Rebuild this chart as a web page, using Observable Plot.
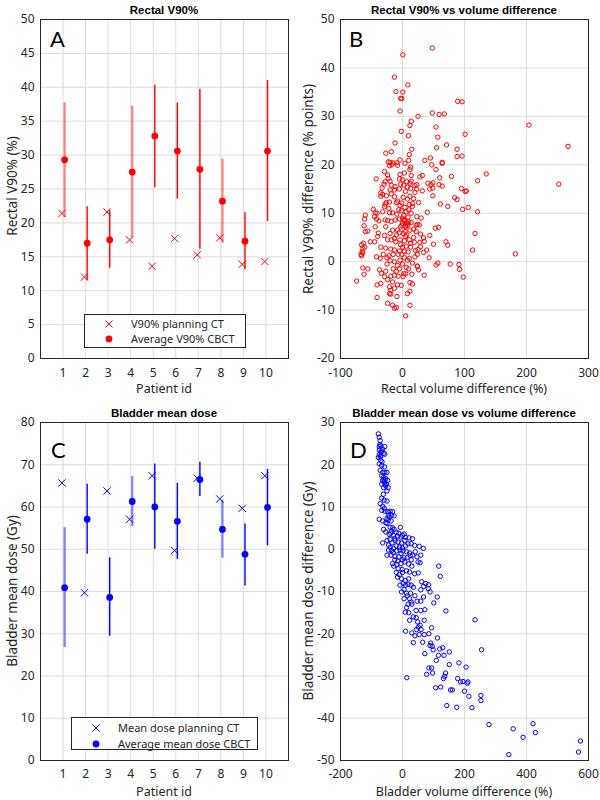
<!DOCTYPE html>
<html><head><meta charset="utf-8">
<script src="https://cdn.jsdelivr.net/npm/d3@7"></script>
<script src="https://cdn.jsdelivr.net/npm/@observablehq/plot@0.6"></script>
<style>
body{margin:0;background:#fff;}
#wrap{position:relative;width:600px;height:800px;overflow:hidden;background:#fff;}
.panel{position:absolute;width:300px;height:400px;}
.title{position:absolute;font:bold 11.5px "Liberation Sans",Arial,sans-serif;line-height:12px;color:#000;text-align:center;width:248px;white-space:nowrap;}
.letter{position:absolute;font:22px Lato,sans-serif;line-height:22px;color:#000;}
.xlab{position:absolute;font:12.5px "Noto Sans",sans-serif;line-height:14px;color:#262626;white-space:nowrap;transform:translate(-50%,-50%);}
.ylab{position:absolute;font:13.5px "Noto Sans",sans-serif;line-height:15px;color:#262626;white-space:nowrap;transform:translate(-50%,-50%) rotate(-90deg);}
.legend{position:absolute;border:1px solid #262626;background:#fff;font:11px "Noto Sans",sans-serif;color:#262626;box-sizing:border-box;}
.legend .row{position:absolute;left:0;height:14px;line-height:14px;white-space:nowrap;}
</style></head><body><div id="wrap"></div>
<script>
// ---------- Data ----------
const patients = [1,2,3,4,5,6,7,8,9,10];
const faintBars = [1,4,8];

const rectalPlanCT   = [21.4,12.0,21.6,17.5,13.6,17.7,15.3,17.8,13.9,14.3];
const rectalCBCTMean = [29.3,17.0,17.5,27.5,32.8,30.6,27.9,23.2,17.3,30.6];
const rectalCBCTMin  = [20.8,11.5,13.3,17.8,25.2,23.5,16.1,17.0,13.1,20.2];
const rectalCBCTMax  = [37.7,22.4,21.8,37.2,40.3,37.7,39.7,29.4,21.5,41.0];

const bladderPlanCT   = [65.7,39.7,63.8,57.1,67.4,49.7,66.8,61.9,59.7,67.4];
const bladderCBCTMean = [40.9,57.1,38.6,61.3,60.0,56.6,66.5,54.7,48.8,59.9];
const bladderCBCTMin  = [26.7,48.8,29.4,55.4,50.0,47.6,62.5,47.9,41.3,50.8];
const bladderCBCTMax  = [55.1,65.4,48.0,67.2,70.2,65.6,70.6,61.6,56.0,68.9];

const ticksA = [0,5,10,15,20,25,30,35,40,45,50];
const ticksBx = [-100,0,100,200,300];
const ticksBy = [-20,-10,0,10,20,30,40,50];
const ticksC = [0,10,20,30,40,50,60,70,80];
const ticksDx = [-200,0,200,400,600];
const ticksDy = [-50,-40,-30,-20,-10,0,10,20,30];

// Rectal: [volume difference %, V90% difference points]
const rectalPoints = [
[48,44.1],[0.5,42.7],[-13,38.1],[8.5,36.5],[-10.6,35.1],[0.5,35.0],[-3,33.7],[-1,33.7],[89,33.1],[96,33.0],[-4,31.1],[48,30.7],[59,30.4],[67.5,30.5],[25,30.0],[14,29.0],[12,28.1],[54,27.8],[-2,26.9],[101,26.3],[9.6,26.0],[57,25.7],[-12,24.5],[71,24.1],[15,23.2],[55,23.5],[88,23.2],[-27,22.4],[-18,22.7],[11,22.1],[45,21.4],[36,20.9],[88,21.7],[96,21.8],[-4,21.0],[10,20.9],[-23,20.6],[-20,20.5],[-17,20.0],[-21,19.8],[-15,20.4],[-9,20.4],[-8,19.9],[4,20.3],[13,19.5],[12,19.0],[47,20.0],[64,20.3],[64,20.5],[54,19.0],[-29,18.6],[-24,17.9],[-4,18.0],[3,18.3],[14,17.8],[32,17.8],[28,17.5],[79,17.6],[60,17.3],[135,18.1],[-42.5,17.1],[204,28.2],[267,23.8],
[-28,16.5],[-30,16.0],[-33,15.2],[-35,14.2],[-32,13.9],[-20,16.6],[-18,15.8],[-13,14.8],[-20,14.8],[-5,17.1],[0,16.9],[-3,16.0],[7,16.5],[2,15.8],[12,16.2],[14,16.6],[8,15.4],[13,15.1],[20,15.7],[23,15.9],[23,15.0],[20,14.3],[32,14.6],[41,16.2],[46,15.9],[49,16.3],[49,15.2],[44,15.0],[59,15.9],[64,15.6],[49,13.6],[95,15.1],[103,14.6],[101,14.5],[84,13.2],[88,12.8],[61,11.9],[73,11.4],[97,10.8],[106,11.2],[121,10.3],[121,16.7],[40,10.2],[117,5.8],[113,2.4],[91,-0.6],[92,-1.6],[98,-3.2],[77,-0.5],[57,-0.3],[54,-0.7],[70,4.1],[73,3.4],[50,3.6],[44,5.4],[53,6.9],[58,7.1],[34,4.9],[35,4.2],[29,3.1],[39,2.4],[35,-2.8],[24,-1],[26,-1.7],[182,1.6],[252,16],
[-66,1.2],[-65,2],[-64,2.7],[-66,3.5],[-63,3.8],[-61,3.0],[-67,1.5],[-64,1.8],[-60,9.6],[-61,8.8],[-62,7.4],[-60,6.2],[-56,6.3],[-64,-1.3],[-56,-1.5],[-62,-2.6],[-74,-4.0],[-41,-7.4],[-24,-8.6],[-16,-9.0],[-13,-9.6],[-10,-9.5],[12,-9.0],[5,-11.2],
[-47,10.8],[-44,10.1],[-41,10],[-45,9.3],[-32,10.3],[-28,11.9],[-26,12.2],[-29,11.4],[-21,12.3],[-13,13.4],[-10,12.2],[-4,11.6],[-6,10.7],[-16,10.1],[-21,10.1],[1,13.3],[8,12.9],[11,11.8],[16,11.4],[10,10.7],[14,10],[23,9.3],[-28,8.6],[-24,8.5],[-18,8.3],[-12,8.6],[-5,8.8],[3,8.6],[0,7.9],[5,7.4],[-3,7.2],[8,7.9],[14,8.1],[24,7.7],[27,7.6],[18,6.7],[22,6.2],[29,5.7],[-42,8.8],[-38,8.4],[-44,7.2],[-39,5.9],[-40,5.2],[-45,4.1],[-52,4.1],[-27,7.2],[-29,5.4],[-24,4.5],[-18,4.5],[-13,4.8],[-11,4.1],[-4,4.5],[3,4.3],[5,5.2],[11,4.5],[13,3.8],[-35,3.0],[-27,2.8],[-19,2.6],[-13,2.4],[-5,2.2],[3,2.1],[13,3.0],[21,2.3],[24,1.5],[34,1.9],[43,0.8],[-42,1.0],[-36,0.7],[-25,0.8],[-20,0.2],[-13,0],[-4,0.3],[8,0.3],[11,0.7],[16,-0.3],[24,-0.9],[-37,-1.7],[-34,-2.4],[-29,-3.1],[-24,-3.7],[-19,-3.0],[-13,-2.8],[-7,-3.0],[1,-3.1],[15,-2.6],[-41,-4.8],[-35,-4.5],[-21,-5.2],[-19,-5.9],[-13,-5.5],[-8,-4.8],[-2,-4.9],[12,-4.3],[-21,-6.6],[-19,-6.7],[-9,-7.2],[8,-6.6],[12,-6.1],
[3,8.5],[6,8],[8,7.5],[10,8.2],[5,7.2],[2,9.5],[-1,7.5],[12,6.5],[7,5.5],[4,6.2],[-5,6],[-8,6.5],[-10,5.5],[-3,3.5],[0,3],[6,3.2],[9,2],[-7,1.5],[-15,1.5],[-25,-0.5],[-15,-1.5],[-10,-2],[-5,-1.5],[2,-2.5],[5,-2.5],[10,-1.5],[0,-0.5],[20,1],[25,2.5],[28,4],[18,5],[22,7.5],[30,9],[16,12],[-18,14],[-12,15.5],[-8,12.5],[-22,11],[-35,13.5],[-5,15],[5,14.5],[12,13.5],[18,13],[26,12.2],[-26,13.6],[-23,17.2],[0,9],[-2,10.5],[6,10.3],[9,9.2],[-9,9.8],[-16,6.5],[-20,5.8],[-31,1.5],[-22,1.2],[-8,-0.8],[3,0.8],[6,-1.2],[-1,1.5],[16,-4.6],[-27,-2],[-16,-4.2],[19,4],[1,5.8],[-1,12.1],[4,11.2]
];

// Bladder: [volume difference %, mean dose difference Gy]
const bladderPoints = [
[-78,27.3],[-75,26.5],[-72,25.7],[-75,24.3],[-70,24.5],[-57,24.3],[-64,23.7],[-75,23.5],[-67,23.2],[-61,22.7],[-75,22.4],[-70,22.1],[-57,22.5],[-78,21.7],[-72,21.9],[-75,20.2],[-67,19.8],[-72,18.7],[-64,18.2],[-57,18.2],[-50,18.2],[-67,17.4],[-61,17.0],[-54,16.7],[-48,16.3],[-59,15.9],[-67,15.4],[-54,15.0],[-46,14.6],[-50,13.8],[-61,14.6],[-57,15.4],[-64,16.3],[-67,12.1],[-59,11.6],[-50,11.4],[-72,10.8],[-64,10.2],[-59,9.7],[-67,9.2],[-57,9.0],[-48,8.9],[-40,9.0],[-32,8.9],[-35,8.1],[-27,7.9],[-43,7.6],[-50,7.3],[-75,7.1],[-64,6.7],[-54,6.3],[-46,6.9],[-37,6.7],[-50,6.1],[-61,4.7],[-54,4.1],[-40,5.2],[-32,5.1],[-27,4.7],[-35,4.3],[-7,5.2],[-43,3.5],[-29,3.3],[-16,3.1],[-5,2.9],[21,2.7],[32,2.5],[5,3.6],
[-70,23],[-73,24.8],[-60,16.5],[-52,15.5],[-62,13],[-45,8],[-38,3.8],[-20,4],[-12,3.8],[-25,2.6],[0,3.3],[10,2.8],[-58,19.5],[-70,21],[-66,20.7],
[-64,1.5],[-50,2.1],[-40,2.3],[-34,1.5],[-24,2.1],[-14,1.7],[-3,1.5],[7,2.1],[18,1.3],[28,1.3],[39,0.9],[54,0.7],[67,0.2],[-45,-0.2],[-29,0.2],[-19,-0.4],[-8,-0.2],[2,-0.4],[13,-0.6],[23,-0.9],[-50,-1.4],[-37,-1.4],[-24,-1.7],[-12,-1.8],[33,-1.4],[41,-0.6],[47,-1.8],[59,-1.4],[28,-2.5],[57,-3.2],[-32,-3.4],[-19,-3.6],[-5,-3.4],[7,-3.0],[-14,-4.6],[-1,-4.8],[13,-5.1],[23,-5.4],[39,-5.8],[51,-5.6],[117,-4.0],[122,-6.4],[-16,-6.6],[-3,-7.0],[9,-7.4],[2,-8.1],[18,-8.3],[28,-8.5],[62,-7.7],[75,-8.1],[84,-8.4],[68,-8.8],[83,-9.3],[59,-9.6],[-3,-10.1],[13,-10.4],[26,-10.4],[89,-10.1],[112,-11.3],[68,-11.3],[47,-12.3],[59,-12.3],[101,-12.7],[5,-11.7],[23,-11.7],[28,-12.5],[18,-13.0],[13,-13.8],[9,-14.9],[44,-14.5],[59,-14.5],[72,-14.3],[140,-14.6],[234,-16.7],[23,-16.8],[44,-16.2],[49,-17.2],[57,-18.0],[51,-18.4],[70,-16.8],[10,-19.4],[30,-19.8],[54,-20.2],[70,-20.2],[85,-20.0],[94,-18.6],[113,-21.0],[35,-22.1],[91,-22.2],[96,-23.0],[89,-22.8],[99,-23.8],[120,-23.6],[130,-23.3],[151,-24.3],[255,-23.8],[72,-24.7],[116,-25.1],[134,-25.1],[109,-26.3],[151,-27.3],[182,-26.9],[85,-28.1],[94,-28.1],[205,-27.9],
[-40,0.5],[-30,-0.8],[-20,0.8],[-10,0.5],[0,0.3],[10,0.8],[-45,1.0],[-35,-0.3],[-25,-2.5],[-15,-2.8],[-5,-1.0],[5,-2.0],[15,-2.0],[20,-3.5],[30,-4.0],[-28,-4.0],[-10,-6],[0,-5.5],[10,-8.5],[20,-7],[-8,-8.5],[5,-9.5],[15,-11],[35,-9],[40,-11],[30,-13],[20,-15],[35,-16],[45,-19],[40,-20.5],[60,-19],[65,-22],[0,-2.5],[-20,-5.5],[50,-3],[25,-1.5],
[97,-29.3],[78,-29.6],[14,-30.4],[139,-29.3],[136,-30.1],[132,-30.6],[178,-30.6],[187,-31.4],[195,-31.3],[209,-31.7],[211,-31.4],[107,-32.8],[123,-32.6],[155,-33.3],[161,-33.3],[200,-33.6],[214,-34.8],[253,-34.6],[253,-35.8],[143,-37.0],[175,-37.4],[224,-37.5],[279,-41.5],[357,-42.5],[389,-44.5],[421,-41.3],[429,-43.4],[343,-48.6],[574,-45.4],[568,-48.0]
];

// ---------- Build ----------
const RED = "#ff0000", BLUE = "#0000ff", GRID = "#dcdcdc", INK = "#262626";
const wrap = document.getElementById("wrap");

function rows(plan, mean, lo, hi) {
  return patients.map((p, i) => ({p, plan: plan[i], mean: mean[i], lo: lo[i], hi: hi[i], faint: faintBars.includes(p)}));
}

function makePlot(cfg) {
  return Plot.plot({
    width: 300, height: 400,
    marginLeft: 40, marginRight: 12, marginTop: cfg.mt, marginBottom: cfg.mb,
    style: {fontFamily: '"Noto Sans", sans-serif', fontSize: "12px", color: INK, background: "transparent", overflow: "visible"},
    x: {domain: cfg.xDomain, ticks: cfg.xTicks, tickFormat: String, tickSize: 0, tickPadding: cfg.xPad, label: null},
    y: {domain: cfg.yDomain, ticks: cfg.yTicks, tickFormat: String, tickSize: 0, tickPadding: 6, label: null},
    marks: [
      Plot.gridX(cfg.xTicks, {stroke: GRID, strokeOpacity: 1}),
      Plot.gridY(cfg.yTicks, {stroke: GRID, strokeOpacity: 1}),
      ...cfg.marks,
      Plot.frame({stroke: INK})
    ]
  });
}

function patientMarks(data, color) {
  return [
    Plot.ruleX(data.filter(d => d.faint), {x: d => d.p + 0.07, y1: "lo", y2: "hi", stroke: color, strokeWidth: 2.2, strokeOpacity: 0.5}),
    Plot.ruleX(data.filter(d => !d.faint), {x: d => d.p + 0.07, y1: "lo", y2: "hi", stroke: color, strokeWidth: 1.4}),
    Plot.dot(data, {x: d => d.p - 0.05, y: "plan", symbol: "times", r: 3.4, stroke: color, strokeWidth: 1}),
    Plot.dot(data, {x: d => d.p + 0.07, y: "mean", r: 3.4, fill: color, stroke: "none"})
  ];
}

function place(node, left, top) {
  const d = document.createElement("div");
  d.className = "panel"; d.style.left = left + "px"; d.style.top = top + "px";
  d.appendChild(node); wrap.appendChild(d);
}
function addDiv(cls, text, styles) {
  const d = document.createElement("div");
  d.className = cls; d.textContent = text;
  Object.assign(d.style, styles); wrap.appendChild(d); return d;
}
function addLegend(left, top, width, height, color, items, rowCenters) {
  const box = document.createElement("div");
  box.className = "legend";
  Object.assign(box.style, {left: left + "px", top: top + "px", width: width + "px", height: height + "px"});
  items.forEach((it, i) => {
    const r = document.createElement("div");
    r.className = "row"; r.style.top = (rowCenters[i] - 7) + "px"; r.style.width = "100%";
    const sym = it.kind === "times"
      ? `<path d="M1.5,1.5L8.5,8.5M8.5,1.5L1.5,8.5" stroke="${color}" stroke-width="1"/>`
      : `<circle cx="5" cy="5" r="3.4" fill="${color}"/>`;
    r.innerHTML = `<svg width="10" height="10" style="position:absolute;left:19px;top:2px">${sym}</svg><span style="position:absolute;left:46px;top:0">${it.label}</span>`;
    box.appendChild(r);
  });
  wrap.appendChild(box);
}

// Panel A
place(makePlot({
  mt: 19, mb: 42, xPad: 10, xDomain: [0, 11], xTicks: patients, yDomain: [0, 50], yTicks: ticksA,
  marks: patientMarks(rows(rectalPlanCT, rectalCBCTMean, rectalCBCTMin, rectalCBCTMax), RED)
}), 0, 0);

// Panel B
place(makePlot({
  mt: 19, mb: 42, xPad: 10, xDomain: [-100, 300], xTicks: ticksBx, yDomain: [-20, 50], yTicks: ticksBy,
  marks: [Plot.dot(rectalPoints, {x: d => d[0], y: d => d[1], r: 2.2, stroke: RED, strokeWidth: 1, fill: "none"})]
}), 300, 0);

// Panel C
place(makePlot({
  mt: 22, mb: 40, xPad: 9, xDomain: [0, 11], xTicks: patients, yDomain: [0, 80], yTicks: ticksC,
  marks: patientMarks(rows(bladderPlanCT, bladderCBCTMean, bladderCBCTMin, bladderCBCTMax), BLUE)
}), 0, 400);

// Panel D
place(makePlot({
  mt: 22, mb: 40, xPad: 9, xDomain: [-200, 600], xTicks: ticksDx, yDomain: [-50, 30], yTicks: ticksDy,
  marks: [Plot.dot(bladderPoints, {x: d => d[0], y: d => d[1], r: 2.2, stroke: BLUE, strokeWidth: 1, fill: "none"})]
}), 300, 400);

// Titles
addDiv("title", "Rectal V90%", {left: "40px", top: "4px"});
addDiv("title", "Rectal V90% vs volume difference", {left: "340px", top: "4px"});
addDiv("title", "Bladder mean dose", {left: "40px", top: "407px"});
addDiv("title", "Bladder mean dose vs volume difference", {left: "340px", top: "407px"});

// Axis labels
addDiv("xlab", "Patient id", {left: "164px", top: "389px"});
addDiv("xlab", "Rectal volume difference (%)", {left: "464px", top: "389px"});
addDiv("xlab", "Patient id", {left: "164px", top: "792px"});
addDiv("xlab", "Bladder volume difference (%)", {left: "464px", top: "792px"});
addDiv("ylab", "Rectal V90% (%)", {left: "12px", top: "186px"});
addDiv("ylab", "Rectal V90% difference (% points)", {left: "308px", top: "189px"});
addDiv("ylab", "Bladder mean dose (Gy)", {left: "12px", top: "591px"});
addDiv("ylab", "Bladder mean dose difference (Gy)", {left: "308px", top: "591px"});

// Panel letters
addDiv("letter", "A", {left: "50px", top: "28px"});
addDiv("letter", "B", {left: "349px", top: "28px"});
addDiv("letter", "C", {left: "51px", top: "439px"});
addDiv("letter", "D", {left: "350px", top: "439px"});

// Legends
addLegend(84, 314, 162, 34, RED,
  [{kind: "times", label: "V90% planning CT"}, {kind: "dot", label: "Average V90% CBCT"}], [9, 24]);
addLegend(71, 717, 187, 33, BLUE,
  [{kind: "times", label: "Mean dose planning CT"}, {kind: "dot", label: "Average mean dose CBCT"}], [10, 26]);
</script></body></html>
